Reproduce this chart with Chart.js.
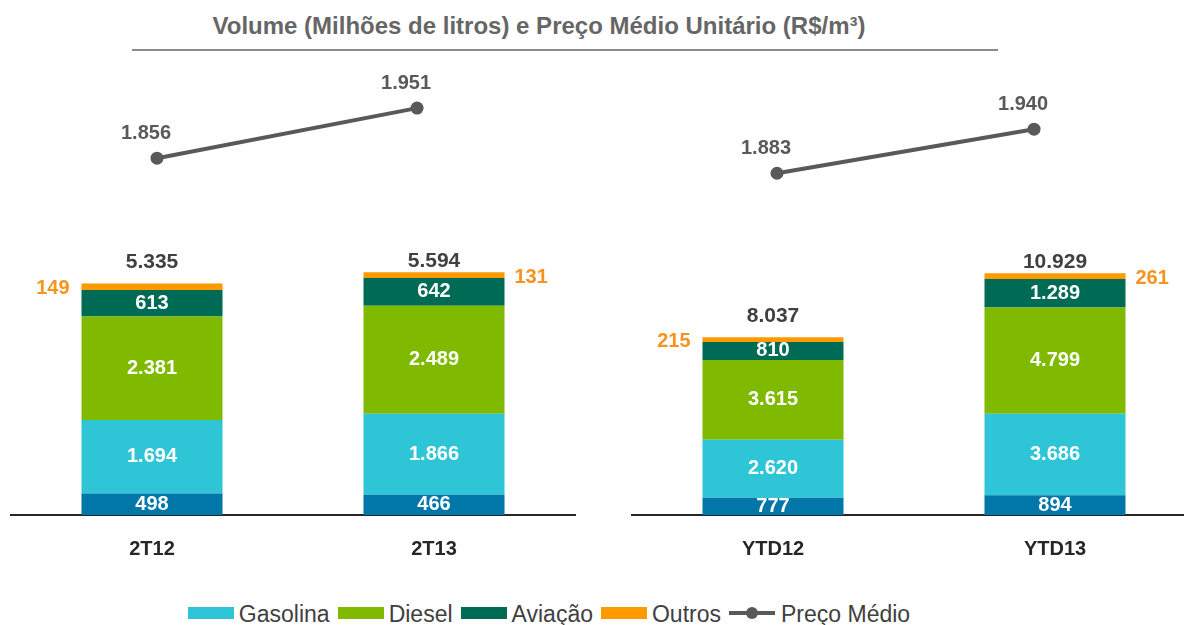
<!DOCTYPE html>
<html lang="pt-BR">
<head>
<meta charset="utf-8">
<script src="https://cdn.jsdelivr.net/npm/chart.js@4.4.0/dist/chart.umd.min.js"></script>
<style>
  html, body { margin: 0; padding: 0; background: #fff; }
  body { width: 1184px; height: 625px; overflow: hidden; position: relative; font-family: "Liberation Sans", Arial, sans-serif; }
  #titulo { position: absolute; left: 0; width: 1078px; top: 12px; text-align: center; font-weight: bold; font-size: 24px; color: #666; }
  #regua { position: absolute; left: 132px; width: 866px; top: 49px; height: 2px; background: #8c8c8c; }
  #painelEsq { position: absolute; left: 0; top: 0; }
  #painelDir { position: absolute; left: 621px; top: 0; }
  #legenda { position: absolute; top: 600px; left: 0; width: 1098px; display: flex; justify-content: center; font-size: 23px; line-height: 28px; color: #404040; white-space: nowrap; }
  .item { display: flex; align-items: center; margin: 0 4px; }
  .caixa { width: 46px; height: 12px; margin-right: 5px; margin-top: -3px; }
  .marca { position: relative; width: 46px; height: 12px; margin-right: 6px; margin-top: -3px; }
  .marca::before { content: ""; position: absolute; left: 0; right: 0; top: 4px; height: 4px; background: #595959; }
  .marca::after { content: ""; position: absolute; left: 17px; top: 0; width: 12px; height: 12px; border-radius: 50%; background: #595959; }
</style>
</head>
<body>
<div id="titulo">Volume (Milhões de litros) e Preço Médio Unitário (R$/m³)</div>
<div id="regua"></div>
<canvas id="painelEsq" width="600" height="583"></canvas>
<canvas id="painelDir" width="600" height="583"></canvas>
<div id="legenda">
  <div class="item"><div class="caixa" style="background:#2EC5D6"></div>Gasolina</div>
  <div class="item"><div class="caixa" style="background:#7FBA00"></div>Diesel</div>
  <div class="item"><div class="caixa" style="background:#006B54"></div>Aviação</div>
  <div class="item"><div class="caixa" style="background:#FF9900"></div>Outros</div>
  <div class="item"><div class="marca"></div>Preço Médio</div>
</div>
<script>
// trimestre
const categoriasTri = ['2T12', '2T13'];
const semLegendaTri = [498, 466];
const gasolinaTri = [1694, 1866];
const dieselTri = [2381, 2489];
const aviacaoTri = [613, 642];
const outrosTri = [149, 131];
const precoTri = [1856, 1951];

// acumulado no ano
const categoriasAno = ['YTD12', 'YTD13'];
const semLegendaAno = [777, 894];
const gasolinaAno = [2620, 3686];
const dieselAno = [3615, 4799];
const aviacaoAno = [810, 1289];
const outrosAno = [215, 261];
const precoAno = [1883, 1940];

const FONTE = '"Liberation Sans", Arial, sans-serif';
Chart.defaults.font.family = FONTE;

const fmt = v => String(v).replace(/\B(?=(\d{3})+(?!\d))/g, '.');

const rotulos = {
  id: 'rotulos',
  afterDatasetsDraw(chart) {
    const ctx = chart.ctx;
    const ds = chart.data.datasets;
    const barras = ds.map((d, i) => i).filter(i => ds[i].type !== 'line');
    const topo = barras[barras.length - 1];
    ctx.save();
    ctx.textBaseline = 'middle';

    barras.forEach(i => {
      chart.getDatasetMeta(i).data.forEach((bar, j) => {
        const v = ds[i].data[j];
        const meio = (bar.y + bar.base) / 2;
        ctx.font = 'bold 20px ' + FONTE;
        if (i === topo) {
          const esq = j === 0;
          ctx.fillStyle = '#F7931E';
          ctx.textAlign = esq ? 'right' : 'left';
          const x = esq ? bar.x - bar.width / 2 - 12 : bar.x + bar.width / 2 + 10;
          ctx.fillText(fmt(v), x, meio + 2);

          const total = barras.reduce((s, k) => s + ds[k].data[j], 0);
          ctx.font = 'bold 21px ' + FONTE;
          ctx.fillStyle = '#404040';
          ctx.textAlign = 'center';
          ctx.fillText(fmt(total), bar.x, bar.y - (esq ? 21 : 11));
        } else {
          ctx.fillStyle = '#ffffff';
          ctx.textAlign = 'center';
          ctx.fillText(fmt(v), bar.x, meio);
        }
      });
    });

    ctx.font = 'bold 20px ' + FONTE;
    ds.forEach((d, i) => {
      if (d.type !== 'line') return;
      chart.getDatasetMeta(i).data.forEach((pt, j) => {
        ctx.fillStyle = '#595959';
        ctx.textAlign = 'center';
        ctx.fillText(fmt(d.data[j].y), pt.x - 11, pt.y - 25);
      });
    });
    ctx.restore();
  }
};

function montar(id, cats, base, gas, die, avi, out, preco, yMax, lMin, lMax, xMin, xMax) {
  const barra = { type: 'bar', grouped: false, categoryPercentage: 1, barPercentage: 0.5, borderWidth: 0 };
  return new Chart(document.getElementById(id), {
    data: {
      labels: cats,
      datasets: [
        { ...barra, label: '', data: base, backgroundColor: '#0077A8' },
        { ...barra, label: 'Gasolina', data: gas, backgroundColor: '#2EC5D6' },
        { ...barra, label: 'Diesel', data: die, backgroundColor: '#7FBA00' },
        { ...barra, label: 'Aviação', data: avi, backgroundColor: '#006B54' },
        { ...barra, label: 'Outros', data: out, backgroundColor: '#FF9900' },
        {
          type: 'line', label: 'Preço Médio',
          data: preco.map((v, i) => ({ x: i, y: v })),
          xAxisID: 'xl', yAxisID: 'yl',
          borderColor: '#595959', borderWidth: 4,
          pointRadius: 6.5, pointBackgroundColor: '#595959', pointBorderWidth: 0
        }
      ]
    },
    options: {
      responsive: false,
      devicePixelRatio: 1,
      animation: false,
      layout: { padding: { left: 11, right: 25, top: 60, bottom: 0 } },
      plugins: { legend: { display: false }, tooltip: { enabled: false } },
      scales: {
        x: {
          stacked: true,
          grid: { display: false, drawTicks: false },
          border: { display: true, color: '#262626', width: 2 },
          ticks: { color: '#262626', font: { size: 20, weight: 'bold' }, padding: 22 }
        },
        y: { stacked: true, display: false, min: 0, max: yMax },
        xl: { type: 'linear', display: false, min: xMin, max: xMax },
        yl: { type: 'linear', display: false, min: lMin, max: lMax }
      }
    },
    plugins: [rotulos]
  });
}

montar('painelEsq', categoriasTri, semLegendaTri, gasolinaTri, dieselTri, aviacaoTri, outrosTri, precoTri,
  10485, 1179.6, 2042.2, -0.5616, 1.6075);
montar('painelDir', categoriasAno, semLegendaAno, gasolinaAno, dieselAno, aviacaoAno, outrosAno, precoAno,
  20571, 1441.2, 2029.4, -0.5642, 1.6302);
</script>
</body>
</html>
